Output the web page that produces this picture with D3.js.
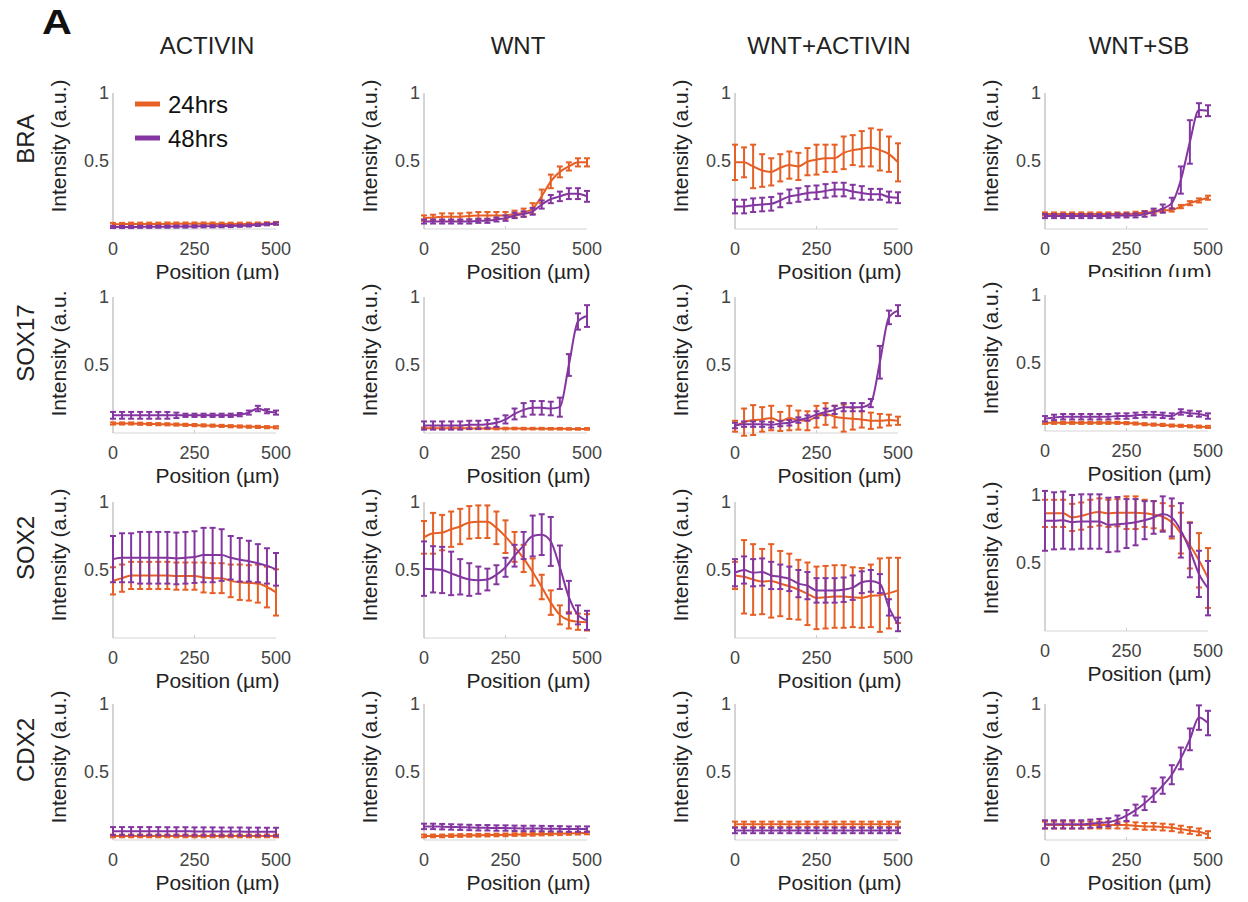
<!DOCTYPE html>
<html>
<head>
<meta charset="utf-8">
<script src="https://cdn.jsdelivr.net/npm/d3@7"></script>
<style>
  body { margin: 0; background: #fff; }
  svg { display: block; }
  text { font-family: "Liberation Sans", Arial, sans-serif; }
</style>
</head>
<body>
<div id="chart"></div>
<script>
// column / row labels
const conditions = ['ACTIVIN', 'WNT', 'WNT+ACTIVIN', 'WNT+SB']
const markers = ['BRA', 'SOX17', 'SOX2', 'CDX2']
const seriesNames = ['24hrs', '48hrs']
const positions = [0, 27.8, 55.6, 83.3, 111.1, 138.9, 166.7, 194.4, 222.2, 250, 277.8, 305.6, 333.3, 361.1, 388.9, 416.7, 444.4, 472.2, 500]
const xTicks = [0, 250, 500]
const yTicks = [0.5, 1]

// mean intensity, one row per condition (ACTIVIN, WNT, WNT+ACTIVIN, WNT+SB)
const BRA_24 = [
  [0.035, 0.035, 0.037, 0.037, 0.037, 0.037, 0.038, 0.038, 0.038, 0.038, 0.038, 0.038, 0.037, 0.037, 0.037, 0.037, 0.038, 0.04, 0.042],
  [0.08, 0.085, 0.09, 0.09, 0.09, 0.095, 0.1, 0.1, 0.1, 0.1, 0.11, 0.12, 0.15, 0.24, 0.35, 0.42, 0.46, 0.49, 0.49],
  [0.49, 0.49, 0.46, 0.43, 0.42, 0.45, 0.47, 0.46, 0.495, 0.51, 0.52, 0.52, 0.56, 0.58, 0.59, 0.6, 0.58, 0.55, 0.49],
  [0.11, 0.11, 0.11, 0.11, 0.11, 0.11, 0.11, 0.11, 0.11, 0.11, 0.115, 0.12, 0.125, 0.135, 0.14, 0.165, 0.19, 0.21, 0.23]
]
const BRA_24_err = [
  [0.01, 0.01, 0.01, 0.01, 0.01, 0.01, 0.01, 0.01, 0.01, 0.01, 0.01, 0.01, 0.01, 0.01, 0.01, 0.01, 0.01, 0.01, 0.01],
  [0.02, 0.02, 0.025, 0.025, 0.025, 0.025, 0.025, 0.025, 0.025, 0.025, 0.025, 0.03, 0.04, 0.05, 0.05, 0.04, 0.03, 0.03, 0.03],
  [0.13, 0.11, 0.16, 0.12, 0.1, 0.1, 0.1, 0.1, 0.1, 0.11, 0.1, 0.1, 0.12, 0.11, 0.13, 0.14, 0.15, 0.13, 0.14],
  [0.012, 0.012, 0.012, 0.012, 0.012, 0.012, 0.012, 0.012, 0.012, 0.012, 0.012, 0.012, 0.012, 0.012, 0.012, 0.012, 0.015, 0.015, 0.015]
]
const BRA_48 = [
  [0.015, 0.015, 0.015, 0.016, 0.016, 0.017, 0.017, 0.018, 0.018, 0.019, 0.02, 0.02, 0.021, 0.022, 0.024, 0.026, 0.03, 0.035, 0.04],
  [0.055, 0.055, 0.055, 0.055, 0.055, 0.055, 0.06, 0.06, 0.07, 0.08, 0.1, 0.11, 0.13, 0.18, 0.22, 0.24, 0.26, 0.26, 0.24],
  [0.165, 0.165, 0.175, 0.18, 0.185, 0.21, 0.24, 0.25, 0.265, 0.27, 0.28, 0.29, 0.29, 0.275, 0.265, 0.255, 0.255, 0.235, 0.23],
  [0.095, 0.095, 0.095, 0.095, 0.095, 0.095, 0.095, 0.097, 0.1, 0.1, 0.1, 0.11, 0.125, 0.15, 0.19, 0.36, 0.64, 0.875, 0.87]
]
const BRA_48_err = [
  [0.008, 0.008, 0.008, 0.008, 0.008, 0.008, 0.008, 0.008, 0.008, 0.008, 0.008, 0.008, 0.008, 0.008, 0.008, 0.008, 0.008, 0.008, 0.008],
  [0.015, 0.015, 0.015, 0.015, 0.015, 0.015, 0.015, 0.015, 0.015, 0.02, 0.02, 0.02, 0.025, 0.03, 0.03, 0.035, 0.04, 0.04, 0.04],
  [0.05, 0.05, 0.05, 0.05, 0.05, 0.05, 0.05, 0.05, 0.05, 0.05, 0.05, 0.05, 0.05, 0.05, 0.05, 0.04, 0.04, 0.04, 0.04],
  [0.015, 0.015, 0.015, 0.015, 0.015, 0.015, 0.015, 0.015, 0.015, 0.015, 0.015, 0.02, 0.025, 0.03, 0.04, 0.1, 0.16, 0.05, 0.04]
]

const SOX17_24 = [
  [0.07, 0.07, 0.07, 0.068, 0.066, 0.065, 0.064, 0.062, 0.06, 0.058, 0.056, 0.054, 0.052, 0.05, 0.048, 0.046, 0.045, 0.043, 0.042],
  [0.035, 0.035, 0.035, 0.035, 0.035, 0.034, 0.034, 0.034, 0.033, 0.033, 0.033, 0.032, 0.032, 0.032, 0.031, 0.031, 0.03, 0.03, 0.03],
  [0.05, 0.08, 0.095, 0.1, 0.11, 0.085, 0.11, 0.095, 0.09, 0.12, 0.14, 0.12, 0.11, 0.105, 0.1, 0.09, 0.09, 0.095, 0.09],
  [0.06, 0.06, 0.06, 0.06, 0.06, 0.06, 0.06, 0.06, 0.06, 0.058, 0.055, 0.05, 0.047, 0.045, 0.04, 0.038, 0.035, 0.032, 0.03]
]
const SOX17_24_err = [
  [0.008, 0.008, 0.008, 0.008, 0.008, 0.008, 0.008, 0.008, 0.008, 0.008, 0.008, 0.008, 0.008, 0.008, 0.008, 0.008, 0.008, 0.008, 0.008],
  [0.006, 0.006, 0.006, 0.006, 0.006, 0.006, 0.006, 0.006, 0.006, 0.006, 0.006, 0.006, 0.006, 0.006, 0.006, 0.006, 0.006, 0.006, 0.006],
  [0.04, 0.1, 0.11, 0.09, 0.09, 0.07, 0.09, 0.07, 0.07, 0.08, 0.08, 0.08, 0.1, 0.08, 0.06, 0.06, 0.05, 0.04, 0.03],
  [0.008, 0.008, 0.008, 0.008, 0.008, 0.008, 0.008, 0.008, 0.008, 0.008, 0.008, 0.008, 0.008, 0.008, 0.008, 0.008, 0.008, 0.008, 0.008]
]
const SOX17_48 = [
  [0.13, 0.13, 0.13, 0.13, 0.13, 0.13, 0.13, 0.13, 0.13, 0.13, 0.13, 0.13, 0.13, 0.13, 0.135, 0.15, 0.18, 0.16, 0.15],
  [0.055, 0.055, 0.055, 0.055, 0.055, 0.06, 0.06, 0.065, 0.075, 0.1, 0.14, 0.17, 0.185, 0.185, 0.18, 0.19, 0.5, 0.82, 0.86],
  [0.055, 0.065, 0.065, 0.065, 0.06, 0.07, 0.075, 0.095, 0.11, 0.135, 0.155, 0.17, 0.19, 0.19, 0.19, 0.22, 0.52, 0.85, 0.9],
  [0.09, 0.1, 0.105, 0.105, 0.105, 0.105, 0.105, 0.105, 0.11, 0.11, 0.115, 0.12, 0.12, 0.115, 0.11, 0.14, 0.13, 0.125, 0.11]
]
const SOX17_48_err = [
  [0.025, 0.025, 0.025, 0.025, 0.025, 0.025, 0.025, 0.02, 0.012, 0.012, 0.012, 0.012, 0.012, 0.012, 0.012, 0.015, 0.02, 0.015, 0.015],
  [0.03, 0.03, 0.03, 0.03, 0.03, 0.03, 0.03, 0.03, 0.03, 0.03, 0.04, 0.05, 0.05, 0.05, 0.05, 0.07, 0.08, 0.06, 0.08],
  [0.02, 0.02, 0.02, 0.02, 0.02, 0.02, 0.02, 0.02, 0.02, 0.025, 0.025, 0.03, 0.03, 0.03, 0.03, 0.03, 0.12, 0.05, 0.04],
  [0.02, 0.02, 0.02, 0.02, 0.02, 0.02, 0.02, 0.02, 0.02, 0.02, 0.02, 0.02, 0.02, 0.02, 0.02, 0.02, 0.02, 0.02, 0.02]
]

const SOX2_24 = [
  [0.42, 0.44, 0.46, 0.46, 0.46, 0.46, 0.46, 0.455, 0.455, 0.455, 0.445, 0.44, 0.44, 0.42, 0.41, 0.405, 0.4, 0.375, 0.335],
  [0.74, 0.77, 0.775, 0.8, 0.82, 0.85, 0.855, 0.855, 0.81, 0.745, 0.67, 0.585, 0.485, 0.375, 0.26, 0.17, 0.13, 0.12, 0.115],
  [0.46, 0.45, 0.43, 0.415, 0.42, 0.4, 0.38, 0.355, 0.325, 0.295, 0.3, 0.305, 0.305, 0.3, 0.295, 0.31, 0.315, 0.33, 0.35],
  [0.865, 0.865, 0.865, 0.835, 0.845, 0.865, 0.875, 0.865, 0.87, 0.87, 0.87, 0.865, 0.855, 0.84, 0.8, 0.72, 0.63, 0.52, 0.39]
]
const SOX2_24_err = [
  [0.1, 0.1, 0.1, 0.1, 0.1, 0.1, 0.1, 0.1, 0.1, 0.1, 0.11, 0.11, 0.11, 0.12, 0.13, 0.13, 0.14, 0.15, 0.17],
  [0.12, 0.15, 0.13, 0.13, 0.13, 0.12, 0.12, 0.12, 0.12, 0.12, 0.11, 0.1, 0.1, 0.09, 0.09, 0.07, 0.06, 0.06, 0.06],
  [0.1, 0.27, 0.26, 0.24, 0.27, 0.24, 0.24, 0.22, 0.23, 0.23, 0.23, 0.23, 0.23, 0.22, 0.22, 0.23, 0.27, 0.26, 0.24],
  [0.1, 0.1, 0.1, 0.1, 0.1, 0.1, 0.1, 0.1, 0.1, 0.12, 0.12, 0.1, 0.1, 0.1, 0.12, 0.15, 0.17, 0.2, 0.22]
]
const SOX2_48 = [
  [0.58, 0.59, 0.59, 0.59, 0.59, 0.59, 0.59, 0.585, 0.59, 0.595, 0.61, 0.61, 0.61, 0.59, 0.575, 0.565, 0.55, 0.53, 0.505],
  [0.51, 0.505, 0.5, 0.475, 0.45, 0.43, 0.425, 0.43, 0.465, 0.52, 0.605, 0.68, 0.75, 0.76, 0.71, 0.52, 0.3, 0.17, 0.13],
  [0.48, 0.5, 0.48, 0.485, 0.46, 0.45, 0.435, 0.4, 0.385, 0.35, 0.35, 0.35, 0.355, 0.37, 0.41, 0.42, 0.4, 0.225, 0.1],
  [0.81, 0.81, 0.815, 0.8, 0.805, 0.805, 0.805, 0.78, 0.785, 0.79, 0.8, 0.815, 0.835, 0.86, 0.835, 0.74, 0.595, 0.42, 0.315]
]
const SOX2_48_err = [
  [0.17, 0.18, 0.18, 0.19, 0.19, 0.19, 0.19, 0.19, 0.19, 0.19, 0.2, 0.2, 0.19, 0.16, 0.16, 0.15, 0.14, 0.13, 0.12],
  [0.2, 0.17, 0.17, 0.16, 0.13, 0.12, 0.1, 0.08, 0.07, 0.07, 0.08, 0.1, 0.15, 0.15, 0.18, 0.16, 0.12, 0.07, 0.07],
  [0.1, 0.1, 0.1, 0.1, 0.1, 0.09, 0.09, 0.1, 0.1, 0.09, 0.09, 0.09, 0.09, 0.09, 0.08, 0.08, 0.07, 0.06, 0.05],
  [0.22, 0.21, 0.21, 0.2, 0.2, 0.2, 0.2, 0.2, 0.2, 0.18, 0.17, 0.14, 0.12, 0.13, 0.14, 0.2, 0.2, 0.17, 0.2]
]

const CDX2_24 = [
  [0.03, 0.03, 0.03, 0.03, 0.03, 0.03, 0.03, 0.03, 0.03, 0.03, 0.03, 0.03, 0.03, 0.03, 0.03, 0.03, 0.03, 0.03, 0.03],
  [0.03, 0.03, 0.03, 0.032, 0.033, 0.034, 0.035, 0.036, 0.037, 0.038, 0.04, 0.041, 0.042, 0.044, 0.045, 0.046, 0.048, 0.05, 0.052],
  [0.115, 0.115, 0.115, 0.115, 0.115, 0.115, 0.115, 0.115, 0.115, 0.115, 0.115, 0.115, 0.115, 0.115, 0.115, 0.115, 0.115, 0.115, 0.115],
  [0.11, 0.11, 0.11, 0.11, 0.11, 0.11, 0.11, 0.11, 0.11, 0.11, 0.105, 0.1, 0.1, 0.095, 0.09, 0.08, 0.07, 0.06, 0.04]
]
const CDX2_24_err = [
  [0.01, 0.01, 0.01, 0.01, 0.01, 0.01, 0.01, 0.01, 0.01, 0.01, 0.01, 0.01, 0.01, 0.01, 0.01, 0.01, 0.01, 0.01, 0.01],
  [0.01, 0.01, 0.01, 0.01, 0.01, 0.01, 0.01, 0.01, 0.01, 0.01, 0.01, 0.01, 0.01, 0.01, 0.01, 0.01, 0.01, 0.01, 0.01],
  [0.02, 0.02, 0.02, 0.02, 0.02, 0.02, 0.02, 0.02, 0.02, 0.02, 0.02, 0.02, 0.02, 0.02, 0.02, 0.02, 0.02, 0.02, 0.02],
  [0.025, 0.025, 0.025, 0.025, 0.025, 0.025, 0.025, 0.025, 0.025, 0.025, 0.025, 0.025, 0.025, 0.025, 0.025, 0.025, 0.025, 0.025, 0.025]
]
const CDX2_48 = [
  [0.065, 0.065, 0.065, 0.065, 0.065, 0.065, 0.064, 0.064, 0.064, 0.063, 0.063, 0.063, 0.062, 0.062, 0.062, 0.061, 0.061, 0.06, 0.06],
  [0.1, 0.1, 0.098, 0.096, 0.094, 0.092, 0.09, 0.09, 0.088, 0.088, 0.086, 0.085, 0.085, 0.084, 0.083, 0.082, 0.08, 0.08, 0.08],
  [0.07, 0.07, 0.07, 0.07, 0.07, 0.07, 0.07, 0.07, 0.07, 0.07, 0.07, 0.07, 0.07, 0.07, 0.07, 0.07, 0.07, 0.07, 0.07],
  [0.115, 0.115, 0.115, 0.115, 0.115, 0.12, 0.125, 0.13, 0.15, 0.18, 0.22, 0.27, 0.33, 0.4, 0.48, 0.6, 0.74, 0.9, 0.86]
]
const CDX2_48_err = [
  [0.03, 0.03, 0.03, 0.03, 0.03, 0.03, 0.03, 0.03, 0.03, 0.03, 0.03, 0.03, 0.03, 0.03, 0.03, 0.03, 0.03, 0.03, 0.03],
  [0.02, 0.02, 0.02, 0.02, 0.02, 0.02, 0.02, 0.02, 0.02, 0.02, 0.02, 0.02, 0.02, 0.02, 0.02, 0.02, 0.02, 0.02, 0.02],
  [0.02, 0.02, 0.02, 0.02, 0.02, 0.02, 0.02, 0.02, 0.02, 0.02, 0.02, 0.02, 0.02, 0.02, 0.02, 0.02, 0.02, 0.02, 0.02],
  [0.03, 0.03, 0.03, 0.03, 0.03, 0.03, 0.03, 0.03, 0.03, 0.04, 0.04, 0.05, 0.05, 0.06, 0.07, 0.08, 0.08, 0.09, 0.09]
]

const means = [[BRA_24, BRA_48], [SOX17_24, SOX17_48], [SOX2_24, SOX2_48], [CDX2_24, CDX2_48]]
const errs = [[BRA_24_err, BRA_48_err], [SOX17_24_err, SOX17_48_err], [SOX2_24_err, SOX2_48_err], [CDX2_24_err, CDX2_48_err]]

// layout
const width = 1248
const height = 902
const colX = [113, 424, 735, 1045]
const rowTop = [93, 297, 502, 704]
const plotW = 163
const plotH = 136
const colors = ['#e65f24', '#8436a0']

const svg = d3.select('#chart').append('svg')
  .attr('width', width)
  .attr('height', height)
  .attr('viewBox', [0, 0, width, height])

// the source tiles crop some axis labels; reproduce those cuts
const defs = svg.append('defs')
defs.append('clipPath').attr('id', 'cut-a').append('rect')
  .attr('x', 0).attr('y', 0).attr('width', 330).attr('height', 280)
defs.append('clipPath').attr('id', 'cut-d').append('rect')
  .attr('x', 930).attr('y', 0).attr('width', 318).attr('height', 277)
defs.append('clipPath').attr('id', 'cut-e').append('rect')
  .attr('x', 0).attr('y', 292).attr('width', 330).attr('height', 200)

svg.append('text')
  .attr('transform', 'translate(42, 34) scale(1.15, 1)')
  .attr('font-size', 36).attr('font-weight', 'bold')
  .attr('fill', '#111')
  .text('A')

svg.append('g').selectAll('text')
  .data(conditions)
  .join('text')
  .attr('x', (d, i) => colX[i] + 94)
  .attr('y', 54)
  .attr('text-anchor', 'middle')
  .attr('font-size', 24)
  .attr('fill', '#222')
  .text(d => d)

svg.append('g').selectAll('text')
  .data(markers)
  .join('text')
  .attr('transform', (d, i) => `translate(34, ${rowTop[i] + plotH / 2 - 22}) rotate(-90)`)
  .attr('text-anchor', 'middle')
  .attr('font-size', 24)
  .attr('fill', '#222')
  .text(d => d)

markers.forEach((m, r) => {
  conditions.forEach((c, k) => {
    // slight per-tile shift seen in the last column
    const dy = k === 3 ? [0, -2, -7, 0][r] : 0
    const x = d3.scaleLinear().domain([0, 500]).range([colX[k], colX[k] + plotW])
    const y = d3.scaleLinear().domain([0, 1]).range([rowTop[r] + dy + plotH, rowTop[r] + dy])
    const g = svg.append('g')

    // axes
    g.append('line')
      .attr('x1', x(0)).attr('x2', x(500))
      .attr('y1', y(0)).attr('y2', y(0))
      .attr('stroke', '#d4d4d4')
    g.append('line')
      .attr('x1', x(0)).attr('x2', x(0))
      .attr('y1', y(0)).attr('y2', y(1))
      .attr('stroke', '#aaa')

    g.append('g').selectAll('line')
      .data(xTicks.slice(1, 2))
      .join('line')
      .attr('x1', d => x(d)).attr('x2', d => x(d))
      .attr('y1', y(0)).attr('y2', y(0) - 3)
      .attr('stroke', '#ccc')

    g.append('g').selectAll('text')
      .data(xTicks)
      .join('text')
      .attr('x', d => x(d))
      .attr('y', y(0) + 26)
      .attr('text-anchor', 'middle')
      .attr('font-size', 18)
      .attr('fill', '#444')
      .text(d => d)

    g.append('g').selectAll('text')
      .data(yTicks)
      .join('text')
      .attr('x', x(0) - 4)
      .attr('y', d => y(d) + 6)
      .attr('text-anchor', 'end')
      .attr('font-size', 18)
      .attr('fill', '#444')
      .text(d => d)

    const xl = g.append('text')
      .attr('x', x(250) + 23)
      .attr('y', y(0) + 50)
      .attr('text-anchor', 'middle')
      .attr('font-size', 21)
      .attr('fill', '#222')
      .text('Position (\u00b5m)')
    if (r === 0 && k === 0) xl.attr('clip-path', 'url(#cut-a)')
    if (r === 0 && k === 3) xl.attr('clip-path', 'url(#cut-d)')

    const yl = g.append('text')
      .attr('transform', `translate(${x(0) - 47}, ${y(0.5) - 15}) rotate(-90)`)
      .attr('text-anchor', 'middle')
      .attr('font-size', 21)
      .attr('fill', '#222')
      .text('Intensity (a.u.)')
    if (r === 1 && k === 0) {
      g.append('g').attr('clip-path', 'url(#cut-e)').node().appendChild(yl.node())
    }

    // series: error bars + mean line
    seriesNames.forEach((s, j) => {
      const mean = means[r][j][k]
      const err = errs[r][j][k]
      const pts = positions.map((p, i) => ({ p, v: mean[i], e: err[i] }))
      const sg = g.append('g').attr('stroke', colors[j]).attr('fill', 'none').attr('stroke-width', 2)

      sg.append('path')
        .datum(pts)
        .attr('d', d3.line().x(d => x(d.p)).y(d => y(d.v)).curve(d3.curveMonotoneX))

      const bars = sg.selectAll('g.bar').data(pts).join('g').attr('class', 'bar')
      bars.append('line')
        .attr('x1', d => x(d.p)).attr('x2', d => x(d.p))
        .attr('y1', d => y(d.v - d.e)).attr('y2', d => y(d.v + d.e))
      bars.append('line')
        .attr('x1', d => x(d.p) - 3).attr('x2', d => x(d.p) + 3)
        .attr('y1', d => y(d.v + d.e)).attr('y2', d => y(d.v + d.e))
      bars.append('line')
        .attr('x1', d => x(d.p) - 3).attr('x2', d => x(d.p) + 3)
        .attr('y1', d => y(d.v - d.e)).attr('y2', d => y(d.v - d.e))
    })

    // legend only in the first tile
    if (r === 0 && k === 0) {
      const lg = g.append('g')
      seriesNames.forEach((s, j) => {
        const ly = rowTop[0] + 11 + j * 34
        lg.append('line')
          .attr('x1', x(0) + 22).attr('x2', x(0) + 47)
          .attr('y1', ly).attr('y2', ly)
          .attr('stroke', colors[j]).attr('stroke-width', 5)
        lg.append('text')
          .attr('x', x(0) + 55).attr('y', ly + 9)
          .attr('font-size', 24)
          .attr('fill', '#111')
          .text(s)
      })
    }
  })
})
</script>
</body>
</html>
